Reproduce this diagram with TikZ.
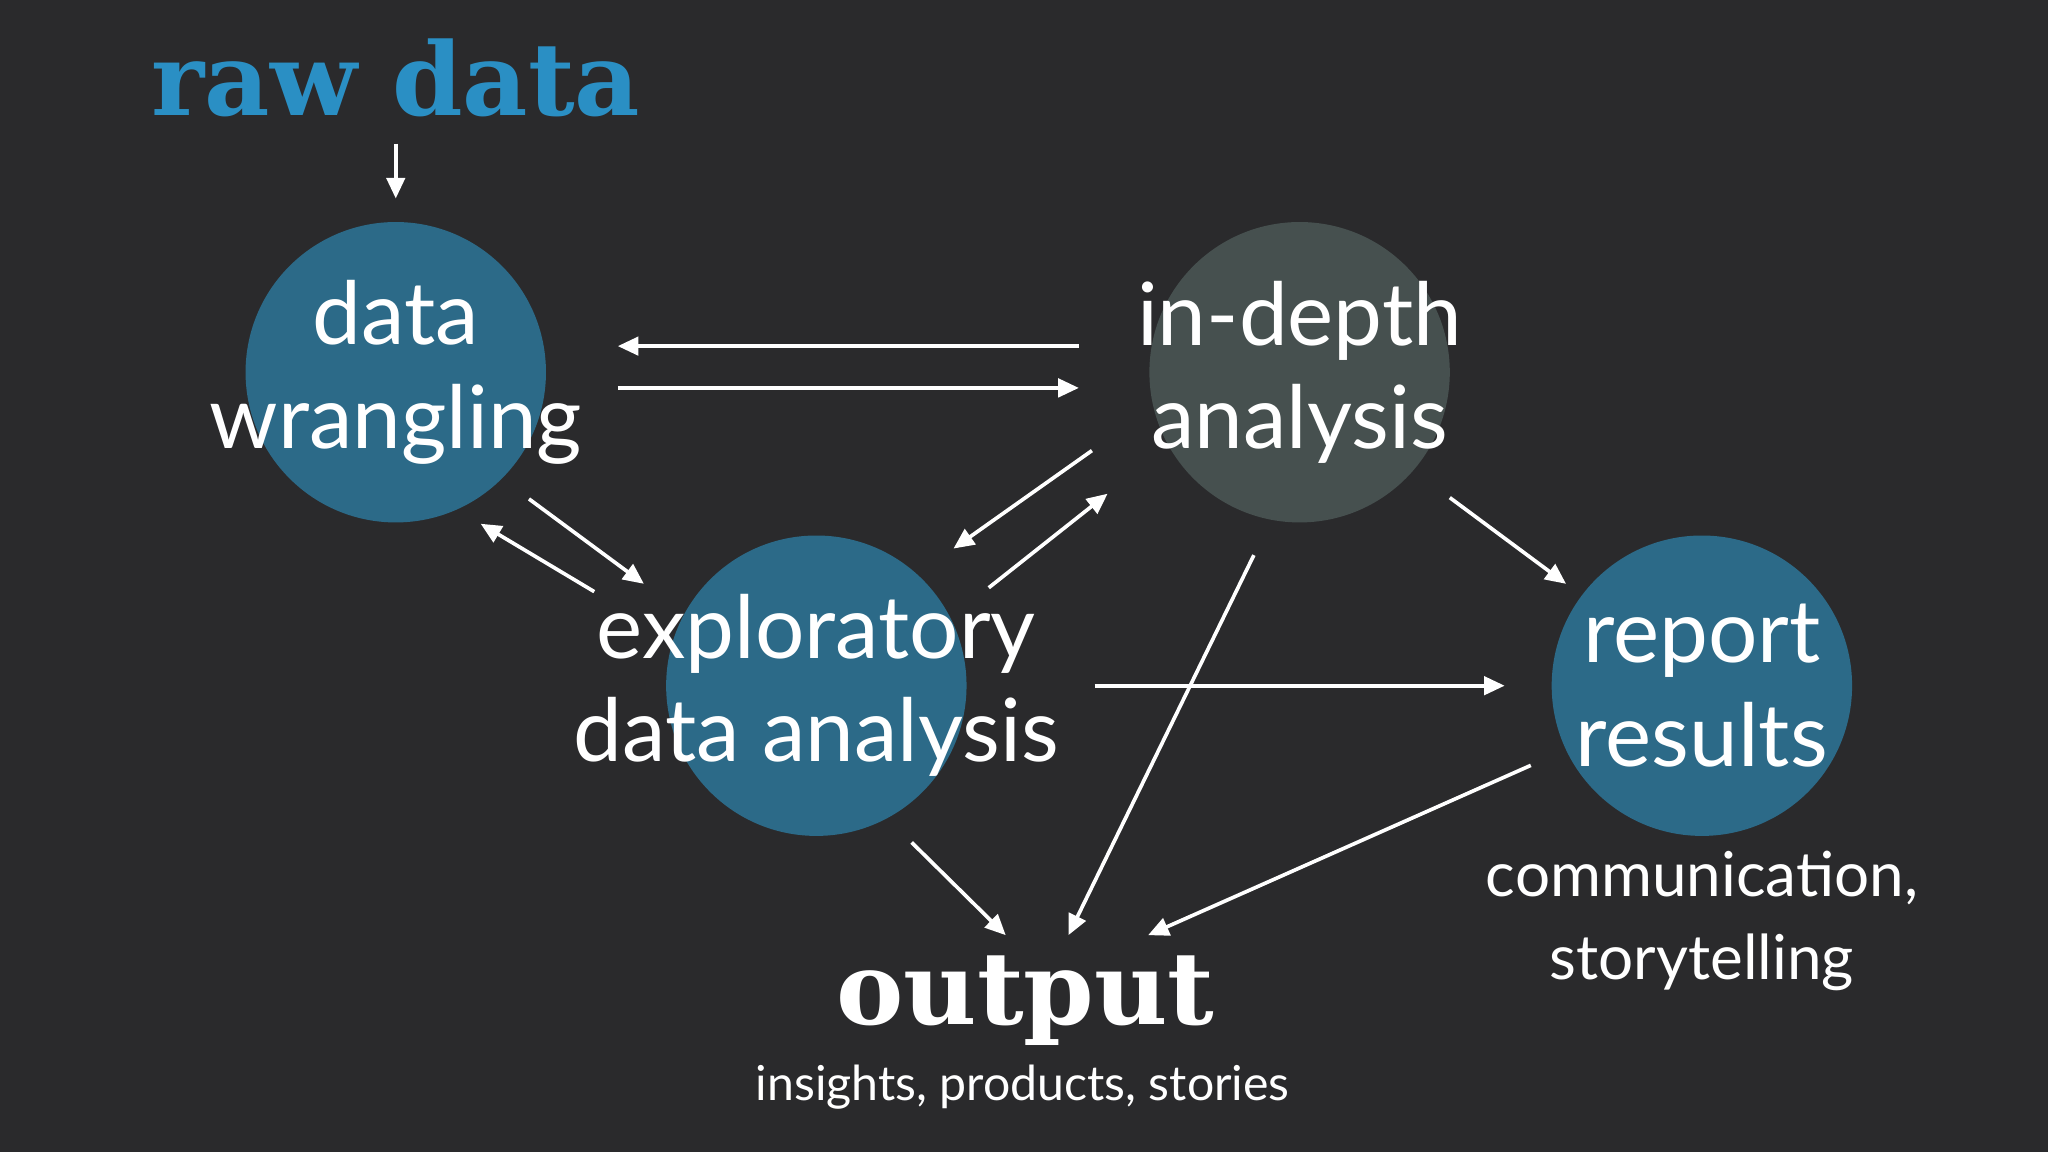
\documentclass[tikz,border=0pt]{standalone}
\usepackage{fontspec}
\setmainfont{Lato}
\newfontfamily\slab{DejaVu Serif}
\usetikzlibrary{arrows.meta}
\definecolor{bgdark}{HTML}{2A2A2C}
\definecolor{stepblue}{HTML}{2C6A88}
\definecolor{stepgray}{HTML}{46504F}
\definecolor{rawblue}{HTML}{2A8FC4}

\begin{document}
\begin{tikzpicture}[x=0.02cm,y=0.02cm,
	>={Triangle[length=9pt,width=8pt]},
	flow/.style={->,draw=white,line width=1.6pt},
	stage/.style={circle,minimum size=230*0.02cm,inner sep=0pt},
	label/.style={text=white,align=center,font=\fontsize{38}{45}\selectfont}]
	\fill[bgdark] (0,0) rectangle (1568,882);
	\useasboundingbox (0,0) rectangle (1568,882);

	% circles and their labels
	\node[stage,fill=stepblue] (W) at (303,597) {};
	\node[stage,fill=stepgray] (I) at (995,597) {};
	\node[stage,fill=stepblue] (E) at (625,357) {};
	\node[stage,fill=stepblue] (R) at (1303,357) {};
	\node[label] (Wt) at (W) {data\\wrangling};
	\node[label] (It) at (I) {in-depth\\analysis};
	\node[label] (Et) at (E) {exploratory\\data analysis};
	\node[label] (Rt) at (R) {report\\results};

	\node[text=rawblue,font=\slab\bfseries\fontsize{44}{50}\selectfont] (raw) at (303,822) {raw data};
	\node[text=white,font=\slab\bfseries\fontsize{44}{50}\selectfont] (out) at (785,116) {output};
	\node[text=white,font=\fontsize{21}{26}\selectfont] (outsub) at (783,50) {insights, products, stories};
	\node[text=white,align=center,font=\fontsize{27}{36}\selectfont] (comm) at (1303,177) {communication,\\storytelling};

	% arrow ends
	\coordinate (r1) at (303,772); \coordinate (r2) at (303,730);
	\coordinate (a1) at (826,617); \coordinate (a2) at (473,617);
	\coordinate (b1) at (473,585); \coordinate (b2) at (826,585);
	\coordinate (c1) at (836,537); \coordinate (c2) at (730,462);
	\coordinate (d1) at (757,432); \coordinate (d2) at (848,504);
	\coordinate (e1) at (405,500); \coordinate (e2) at (493,435);
	\coordinate (f1) at (455,429); \coordinate (f2) at (368,481);
	\coordinate (g1) at (960,457); \coordinate (g2) at (818,166);
	\coordinate (h1) at (838,357); \coordinate (h2) at (1152,357);
	\coordinate (k1) at (1110,501); \coordinate (k2) at (1199,435);
	\coordinate (m1) at (1172,296); \coordinate (m2) at (879,166);
	\coordinate (n1) at (698,237); \coordinate (n2) at (770,166);

	\foreach \s in {r,a,b,c,d,e,f,g,h,k,m,n}
		\draw[flow] (\s1) -- (\s2);
\end{tikzpicture}
\end{document}
